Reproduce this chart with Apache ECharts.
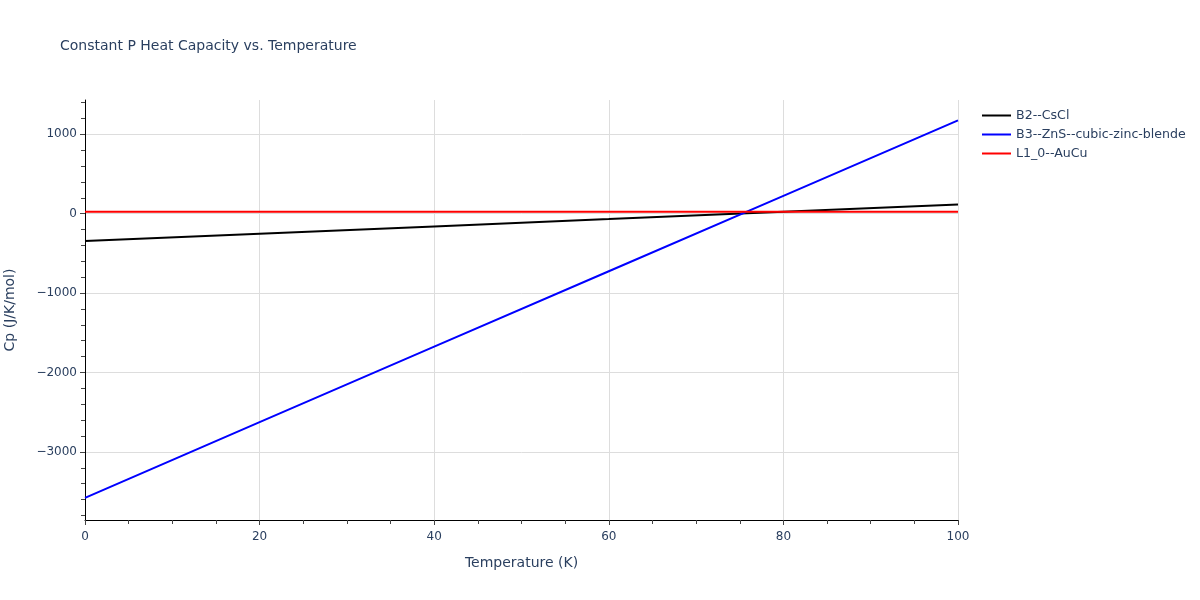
<!DOCTYPE html>
<html>
<head>
<meta charset="utf-8">
<script src="https://cdn.jsdelivr.net/npm/echarts@6/dist/echarts.min.js"></script>
<style>
  html, body { margin: 0; padding: 0; background: #fff; }
  #chart { width: 1200px; height: 600px; }
</style>
</head>
<body>
<div id="chart"></div>
<script>
// values
const temperature = [0, 20, 40, 60, 80, 100];
const cpB2 = [-345, -252, -160, -68, 25, 117];
const cpB3 = [-3580, -2625, -1675, -725, 225, 1175];
const cpL10 = [25, 25, 25, 25, 25, 25];

const seriesNames = ['B2--CsCl', 'B3--ZnS--cubic-zinc-blende', 'L1_0--AuCu'];
const seriesColors = ['#000000', '#0000ff', '#ff0000'];
const seriesValues = [cpB2, cpB3, cpL10];

const yMajorTicks = [-3000, -2000, -1000, 0, 1000];
const yMinorTicks = [];
for (let v = -3800; v <= 1400; v += 200) yMinorTicks.push(v);

const yMin = -3858;
const yMax = 1432;

const textColor = '#2a3f5f';
const fontFamily = '"DejaVu Sans", Verdana, sans-serif';

const chart = echarts.init(document.getElementById('chart'));

const getOptions = () => ({
  backgroundColor: '#fff',
  animation: false,
  textStyle: { fontFamily: fontFamily, color: textColor },
  title: {
    text: 'Constant P Heat Capacity vs. Temperature',
    left: 55,
    top: 34,
    textStyle: { fontFamily: fontFamily, fontSize: 14, fontWeight: 'normal', color: textColor }
  },
  legend: {
    orient: 'vertical',
    left: 977,
    top: 104,
    icon: 'rect',
    itemWidth: 29,
    itemHeight: 2,
    itemGap: 6,
    textStyle: { fontFamily: fontFamily, fontSize: 12.6, color: textColor },
    data: seriesNames
  },
  grid: { left: 85, right: 242, top: 100, bottom: 80, outerBoundsMode: 'none' },
  xAxis: {
    type: 'value',
    min: 0,
    max: 100,
    interval: 20,
    name: 'Temperature (K)',
    nameLocation: 'middle',
    nameGap: 36,
    nameTextStyle: { fontFamily: fontFamily, fontSize: 14, color: textColor },
    axisLine: { show: true, onZero: false, lineStyle: { color: '#000', width: 1 } },
    axisTick: { show: true, length: 5, lineStyle: { color: '#444' } },
    minorTick: { show: true, splitNumber: 4, length: 4, lineStyle: { color: '#444' } },
    axisLabel: { fontFamily: fontFamily, fontSize: 12, color: textColor, margin: 11 },
    splitLine: { show: true, lineStyle: { color: '#dddddd', width: 1 } }
  },
  yAxis: [
    {
      type: 'value',
      min: yMin,
      max: yMax,
      name: 'Cp (J/K/mol)',
      nameLocation: 'middle',
      nameGap: 68,
      nameTextStyle: { fontFamily: fontFamily, fontSize: 14, color: textColor },
      axisLine: { show: true, onZero: false, lineStyle: { color: '#000', width: 1 } },
      axisTick: { show: true, length: 5, customValues: yMajorTicks, lineStyle: { color: '#444' } },
      axisLabel: {
        fontFamily: fontFamily, fontSize: 12, color: textColor, margin: 8,
        customValues: yMajorTicks,
        formatter: v => String(v).replace('-', '\u2212')
      },
      splitLine: { show: true, lineStyle: { color: '#dddddd', width: 1 } }
    },
    {
      type: 'value',
      min: yMin,
      max: yMax,
      position: 'left',
      axisLine: { show: false, onZero: false },
      axisTick: { show: true, length: 4, customValues: yMinorTicks, lineStyle: { color: '#444' } },
      axisLabel: { show: false },
      splitLine: { show: false }
    }
  ],
  series: seriesNames.map((name, i) => ({
    name: name,
    type: 'line',
    yAxisIndex: 0,
    data: temperature.map((t, j) => [t, seriesValues[i][j]]),
    showSymbol: false,
    lineStyle: { color: seriesColors[i], width: 2 },
    itemStyle: { color: seriesColors[i] }
  }))
});

chart.setOption(getOptions());
</script>
</body>
</html>
